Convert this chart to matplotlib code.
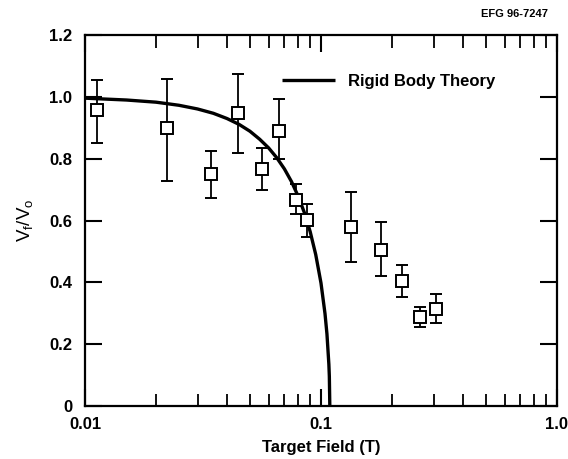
import matplotlib
matplotlib.use("Agg")
import matplotlib.pyplot as plt
from matplotlib.ticker import FixedLocator, NullFormatter, FixedFormatter

# Measured data (Target Field in T, V_f/V_0)
field = [0.0113, 0.0223, 0.0341, 0.0447, 0.0561, 0.0664, 0.0784, 0.0875,
         0.134, 0.180, 0.221, 0.264, 0.306]
ratio = [0.958, 0.899, 0.752, 0.947, 0.766, 0.891, 0.668, 0.601,
         0.579, 0.506, 0.405, 0.289, 0.313]
err_hi = [1.056, 1.059, 0.826, 1.074, 0.836, 0.994, 0.718, 0.653,
          0.693, 0.595, 0.457, 0.319, 0.362]
err_lo = [0.852, 0.728, 0.674, 0.820, 0.700, 0.799, 0.620, 0.546,
          0.465, 0.422, 0.353, 0.257, 0.270]

# Rigid body theory curve
theory_field = [0.01, 0.015, 0.02, 0.025, 0.03, 0.035, 0.04, 0.045, 0.05,
                0.055, 0.06, 0.065, 0.07, 0.075, 0.08, 0.085, 0.09, 0.095,
                0.10, 0.104, 0.106, 0.108, 0.1085, 0.109]
theory_ratio = [0.996, 0.990, 0.983, 0.973, 0.961, 0.947, 0.930, 0.911, 0.889,
                0.863, 0.835, 0.803, 0.767, 0.726, 0.679, 0.626, 0.564, 0.490,
                0.398, 0.299, 0.233, 0.135, 0.096, 0.0]

xticks = [0.01, 0.1, 1.0]
xticklabels = ["0.01", "0.1", "1.0"]
yticks = [0, 0.2, 0.4, 0.6, 0.8, 1.0, 1.2]
yticklabels = ["0", "0.2", "0.4", "0.6", "0.8", "1.0", "1.2"]

FONT = ["Liberation Sans Narrow", "Liberation Sans", "DejaVu Sans"]
plt.rcParams["font.family"] = FONT
plt.rcParams["font.weight"] = "bold"
plt.rcParams["mathtext.fontset"] = "custom"
plt.rcParams["mathtext.rm"] = "Liberation Sans:bold"

fig = plt.figure(figsize=(5.68, 4.59), dpi=100)
ax = fig.add_axes([0.1496, 0.1155, 0.831, 0.808])

ax.plot(theory_field, theory_ratio, color="black", lw=2.4, solid_capstyle="butt",
        label="Rigid Body Theory", zorder=3)

yerr = [[r - lo for r, lo in zip(ratio, err_lo)],
        [hi - r for r, hi in zip(ratio, err_hi)]]
ax.errorbar(field, ratio, yerr=yerr, fmt="s", ms=8, mfc="white", mec="black",
            mew=1.4, ecolor="black", elinewidth=1.3, capsize=4.5, capthick=1.4,
            zorder=4)

ax.set_xscale("log")
ax.set_xlim(0.01, 1.0)
ax.set_ylim(0, 1.2)

ax.xaxis.set_major_locator(FixedLocator(xticks))
ax.xaxis.set_major_formatter(FixedFormatter(xticklabels))
minor = [m * 10.0 ** e for e in (-2, -1) for m in range(2, 10)]
ax.xaxis.set_minor_locator(FixedLocator(minor))
ax.xaxis.set_minor_formatter(NullFormatter())
ax.yaxis.set_major_locator(FixedLocator(yticks))
ax.yaxis.set_major_formatter(FixedFormatter(yticklabels))

ax.tick_params(axis="both", which="major", direction="in", length=12, width=1.5,
               top=True, right=True, labelsize=12)
ax.tick_params(axis="x", which="major", pad=8)
ax.tick_params(axis="y", which="major", pad=9)
ax.tick_params(axis="x", which="minor", direction="in", length=9, width=1.3,
               top=True, bottom=True)
for s in ax.spines.values():
    s.set_linewidth(1.6)

for lab in ax.get_xticklabels() + ax.get_yticklabels():
    lab.set_fontweight("bold")

ax.set_xlabel("Target Field (T)", fontsize=12, fontweight="bold", labelpad=6)
ax.set_ylabel(r"$\mathregular{V_f/V_o}$", fontsize=13.5, labelpad=10)

leg = ax.legend(loc="upper left", bbox_to_anchor=(0.385, 0.935), frameon=False,
                handlelength=3.2, handletextpad=0.8, prop={"weight": "bold", "size": 12})

fig.text(0.965, 0.97, "EFG 96-7247", ha="right", va="center", fontsize=8,
         fontweight="bold")

fig.savefig("out.png", dpi=100)
